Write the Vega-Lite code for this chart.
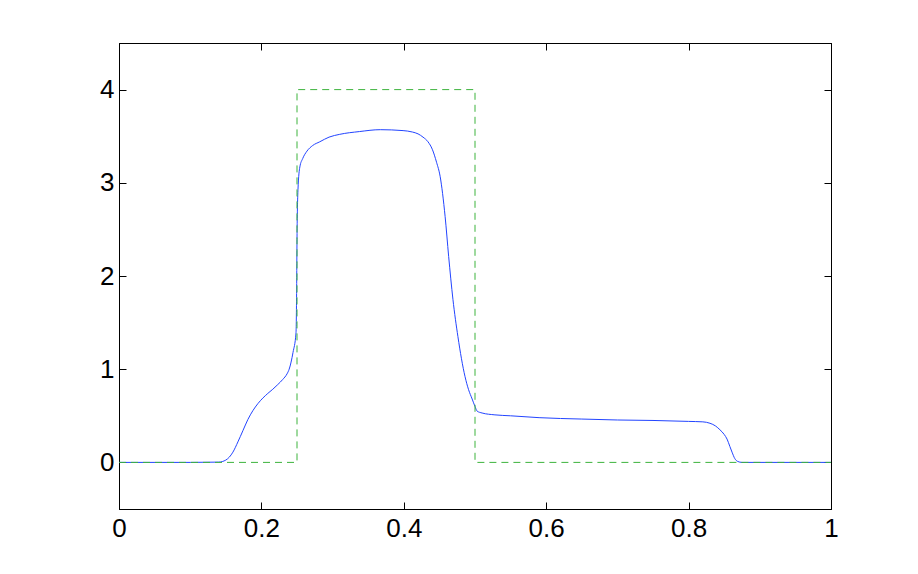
{
  "$schema": "https://vega.github.io/schema/vega-lite/v6.json",
  "width": 712,
  "height": 466,
  "autosize": {"type": "none"},
  "padding": {"left": 119, "top": 43, "right": 87, "bottom": 65},
  "background": "white",
  "config": {
    "view": {"stroke": "black", "strokeWidth": 1},
    "axis": {
      "labelFont": "Liberation Sans",
      "labelFontSize": 26,
      "labelColor": "black",
      "domainColor": "black",
      "tickColor": "black",
      "grid": false,
      "title": null,
      "format": "~g",
      "labelFlush": false
    }
  },
  "datasets": {
    "u": [
      {"x": 0, "y": 0}, {"x": 0.10, "y": 0}, {"x": 0.14, "y": 0.003}, {"x": 0.15, "y": 0.025},
      {"x": 0.16, "y": 0.11}, {"x": 0.167, "y": 0.22}, {"x": 0.174, "y": 0.34}, {"x": 0.181, "y": 0.46},
      {"x": 0.188, "y": 0.555}, {"x": 0.195, "y": 0.63}, {"x": 0.202, "y": 0.69}, {"x": 0.209, "y": 0.74},
      {"x": 0.216, "y": 0.785}, {"x": 0.223, "y": 0.835}, {"x": 0.230, "y": 0.89}, {"x": 0.236, "y": 0.95},
      {"x": 0.239, "y": 1.00}, {"x": 0.2444, "y": 1.18}, {"x": 0.2486, "y": 1.39}, {"x": 0.2495, "y": 1.86},
      {"x": 0.2500, "y": 2.39}, {"x": 0.2514, "y": 2.93}, {"x": 0.254, "y": 3.17}, {"x": 0.258, "y": 3.26},
      {"x": 0.264, "y": 3.34}, {"x": 0.272, "y": 3.40}, {"x": 0.282, "y": 3.44}, {"x": 0.295, "y": 3.49},
      {"x": 0.310, "y": 3.52}, {"x": 0.338, "y": 3.55}, {"x": 0.367, "y": 3.57}, {"x": 0.399, "y": 3.56},
      {"x": 0.412, "y": 3.545}, {"x": 0.420, "y": 3.525}, {"x": 0.427, "y": 3.49}, {"x": 0.434, "y": 3.44},
      {"x": 0.440, "y": 3.36}, {"x": 0.446, "y": 3.22}, {"x": 0.451, "y": 3.07}, {"x": 0.458, "y": 2.64},
      {"x": 0.463, "y": 2.21}, {"x": 0.469, "y": 1.75}, {"x": 0.476, "y": 1.35}, {"x": 0.486, "y": 0.92},
      {"x": 0.491, "y": 0.78}, {"x": 0.496, "y": 0.68}, {"x": 0.500, "y": 0.60}, {"x": 0.503, "y": 0.55},
      {"x": 0.510, "y": 0.53}, {"x": 0.528, "y": 0.51}, {"x": 0.55, "y": 0.50}, {"x": 0.59, "y": 0.48},
      {"x": 0.65, "y": 0.465}, {"x": 0.70, "y": 0.455}, {"x": 0.75, "y": 0.45}, {"x": 0.80, "y": 0.44},
      {"x": 0.82, "y": 0.435}, {"x": 0.830, "y": 0.42}, {"x": 0.838, "y": 0.39}, {"x": 0.844, "y": 0.35},
      {"x": 0.850, "y": 0.30}, {"x": 0.854, "y": 0.25}, {"x": 0.858, "y": 0.17}, {"x": 0.861, "y": 0.11},
      {"x": 0.865, "y": 0.04}, {"x": 0.869, "y": 0.01}, {"x": 0.875, "y": 0}, {"x": 1, "y": 0}
    ],
    "u0": [
      {"i": 0, "x": 0, "y": 0}, {"i": 1, "x": 0.25, "y": 0}, {"i": 2, "x": 0.25, "y": 4},
      {"i": 3, "x": 0.5, "y": 4}, {"i": 4, "x": 0.5, "y": 0}, {"i": 5, "x": 1, "y": 0}
    ]
  },
  "layer": [
    {
      "data": {"name": "u"},
      "mark": {"type": "line", "color": "#2244ff", "strokeWidth": 1, "interpolate": "monotone"},
      "encoding": {
        "x": {"field": "x", "type": "quantitative", "scale": {"domain": [0, 1], "nice": false},
          "axis": {"orient": "bottom", "values": [0, 0.2, 0.4, 0.6, 0.8, 1], "tickSize": -7, "labelPadding": 13, "domain": true}},
        "y": {"field": "y", "type": "quantitative", "scale": {"domain": [-0.5, 4.5], "nice": false, "zero": false},
          "axis": {"orient": "left", "values": [0, 1, 2, 3, 4], "tickSize": -7, "labelPadding": 12, "domain": true}}
      }
    },
    {
      "data": {"name": "u0"},
      "mark": {"type": "line", "color": "#3db33d", "strokeWidth": 1, "strokeDash": [7, 5]},
      "encoding": {
        "x": {"field": "x", "type": "quantitative", "scale": {"domain": [0, 1], "nice": false},
          "axis": {"orient": "top", "values": [0, 0.2, 0.4, 0.6, 0.8, 1], "tickSize": -7, "labels": false, "domain": true}},
        "y": {"field": "y", "type": "quantitative", "scale": {"domain": [-0.5, 4.5], "nice": false, "zero": false},
          "axis": {"orient": "right", "values": [0, 1, 2, 3, 4], "tickSize": -7, "labels": false, "domain": true}},
        "order": {"field": "i", "type": "quantitative"}
      }
    }
  ],
  "resolve": {"axis": {"x": "independent", "y": "independent"}}
}
